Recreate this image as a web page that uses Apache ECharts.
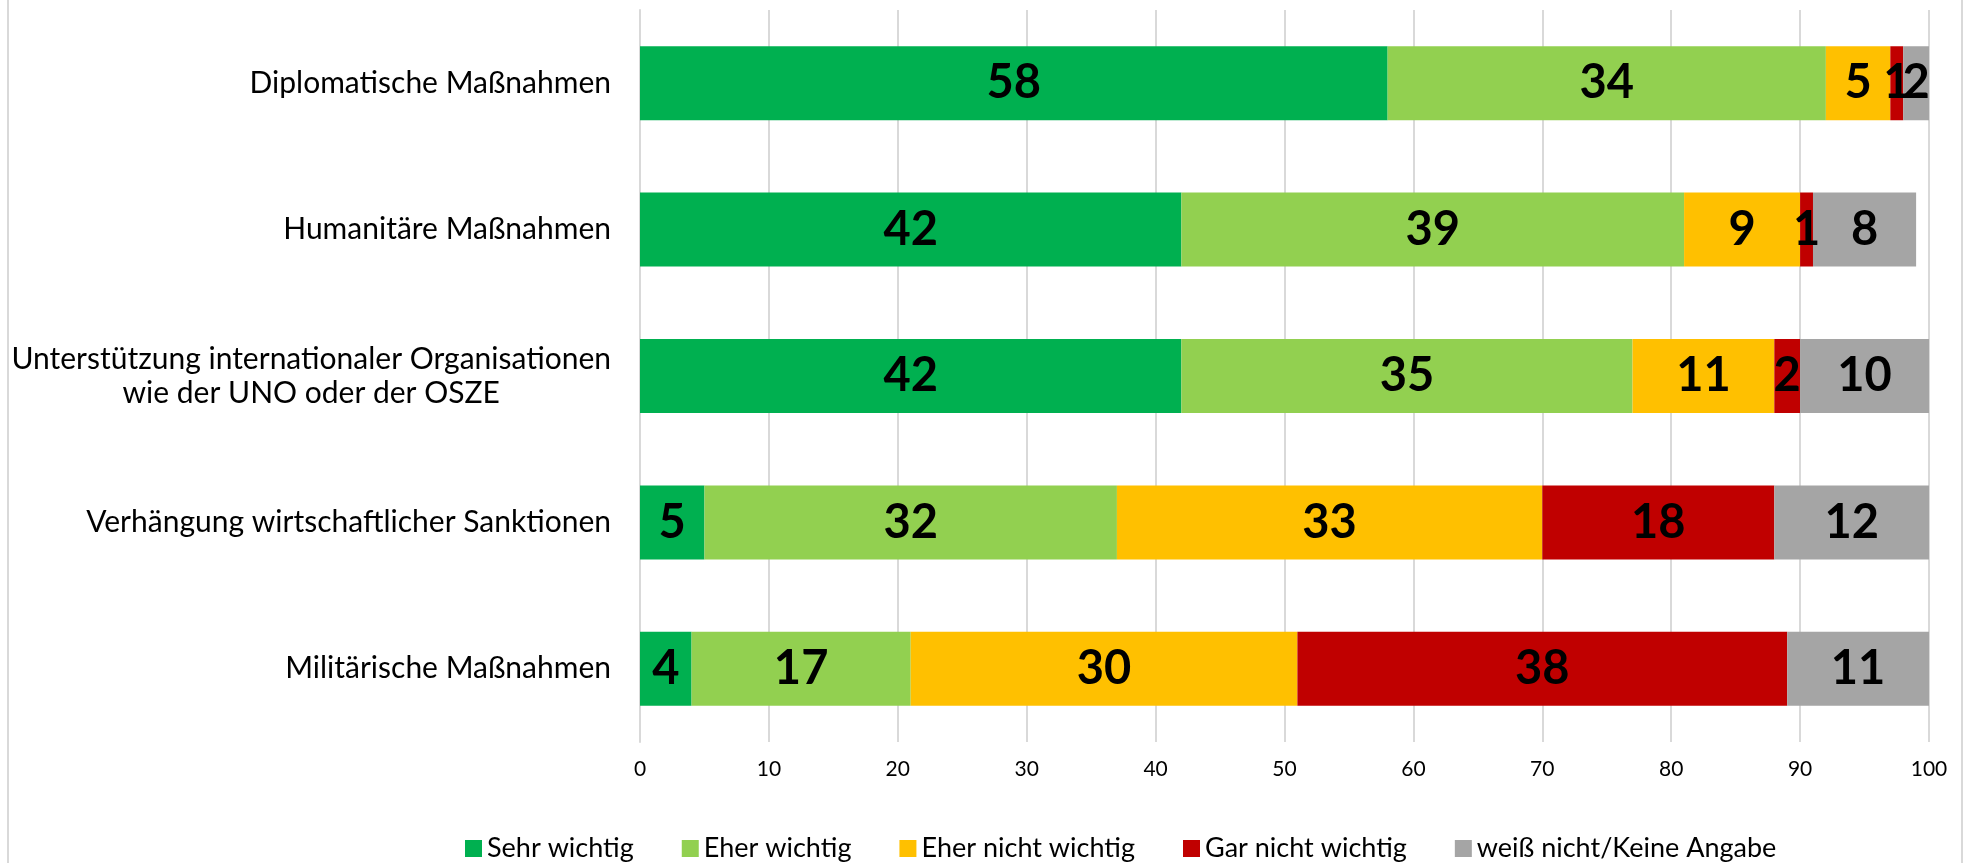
<!DOCTYPE html>
<html>
<head>
    <meta charset="utf-8">
    <title>ECharts</title>
    <script src="https://cdn.jsdelivr.net/npm/echarts@6/dist/echarts.min.js"></script>
    <style>
        html, body { margin: 0; padding: 0; background: #fff; }
    </style>
</head>
<body>
<div id="main" style="width: 1968px;height:863px;"></div>
<script type="text/javascript">
    // Kategorien und Werte (Prozent)
    var categories = [
        'Diplomatische Maßnahmen',
        'Humanitäre Maßnahmen',
        'Unterstützung internationaler Organisationen\nwie der UNO oder der OSZE',
        'Verhängung wirtschaftlicher Sanktionen',
        'Militärische Maßnahmen'
    ];
    var seriesNames = ['Sehr wichtig', 'Eher wichtig', 'Eher nicht wichtig', 'Gar nicht wichtig', 'weiß nicht/Keine Angabe'];
    var sehrWichtig = [58, 42, 42, 5, 4];
    var eherWichtig = [34, 39, 35, 32, 17];
    var eherNichtWichtig = [5, 9, 11, 33, 30];
    var garNichtWichtig = [1, 1, 2, 18, 38];
    var weissNicht = [2, 8, 10, 12, 11];
    var colors = ['#00B050', '#92D050', '#FFC000', '#C00000', '#A5A5A5'];

    var chartDom = document.getElementById('main');
    var myChart = echarts.init(chartDom);

    var values = [sehrWichtig, eherWichtig, eherNichtWichtig, garNichtWichtig, weissNicht];
    var series = values.map(function (data, i) {
        return {
            name: seriesNames[i],
            type: 'bar',
            stack: 'total',
            data: data,
            barWidth: 74,
            itemStyle: { color: colors[i] },
            label: {
                show: true,
                position: 'inside',
                color: '#000',
                fontFamily: 'Lato',
                fontWeight: 'bold',
                fontSize: 47
            }
        };
    });

    var option = {
        animation: false,
        textStyle: { fontFamily: 'Lato' },
        graphic: [{
            type: 'rect',
            shape: { x: 8, y: -2, width: 1954, height: 870 },
            style: { fill: 'none', stroke: '#D9D9D9', lineWidth: 2 },
            silent: true
        }],
        legend: {
            data: seriesNames,
            left: 460,
            top: 830,
            itemWidth: 17,
            itemHeight: 17,
            itemGap: 48,
            icon: 'rect',
            textStyle: { fontSize: 27, color: '#000', fontFamily: 'Lato' }
        },
        grid: {
            left: 640,
            right: 39,
            top: 10,
            bottom: 121
        },
        xAxis: {
            type: 'value',
            min: 0,
            max: 100,
            interval: 10,
            axisLine: { show: false },
            axisTick: { show: false },
            axisLabel: { color: '#000', fontSize: 21, margin: 17, fontFamily: 'Lato' },
            splitLine: { lineStyle: { color: '#D9D9D9', width: 2 } }
        },
        yAxis: {
            type: 'category',
            data: categories,
            inverse: true,
            axisLine: { show: true, lineStyle: { color: '#D9D9D9', width: 2 } },
            axisTick: { show: false },
            axisLabel: {
                margin: 29,
                align: 'right',
                formatter: function (value) {
                    return value.split('\n').map(function (line) {
                        return '{c|' + line + '}';
                    }).join('\n');
                },
                rich: {
                    c: {
                        color: '#000',
                        fontSize: 30,
                        lineHeight: 34,
                        align: 'center',
                        fontFamily: 'Lato'
                    }
                }
            }
        },
        series: series
    };
    myChart.setOption(option);
</script>
</body>
</html>
